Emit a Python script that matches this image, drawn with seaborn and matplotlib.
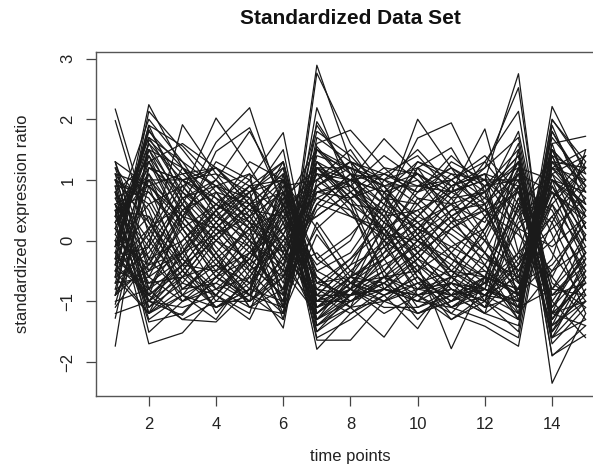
import numpy as np
import pandas as pd
import matplotlib
matplotlib.use("Agg")
import matplotlib.pyplot as plt
import seaborn as sns

# Standardized expression profiles over 15 time points, grouped by phase.
time_points = list(range(1, 16))

# Profiles peaking at t=2, t=7 and t=14
phase_a = [
    [-0.4, 2.24, 1.2, 0.5, -0.1, -1.0, 2.89, 1.3, 0.7, 0.2, -0.5, -0.8, -1.1, 2.21, 1.1],
    [-0.6, 2.13, 1.5, 0.8, 0.0, -1.2, 2.76, 1.6, 0.9, 0.1, -0.6, -0.9, -1.2, 1.99, 1.3],
    [-0.2, 1.83, 0.9, 0.2, -0.4, -0.9, 2.19, 0.8, 0.3, -0.2, -0.8, -1.0, -1.3, 1.8, 0.9],
    [-1.74, 1.66, 1.1, 0.6, 0.2, -1.1, 1.96, 1.1, 0.6, 0.3, -0.3, -0.6, -0.8, 1.6, 1.72],
    [-0.9, 1.5, 0.7, 0.1, -0.6, -1.44, 1.55, 0.9, 0.4, -0.3, -0.9, -1.2, -1.4, 1.5, 0.4],
    [0.1, 1.7, 1.3, 0.9, 0.3, -0.7, 1.4, 1.2, 1.0, 0.6, 0.0, -0.5, -0.9, 1.2, 1.5],
    [-0.5, 1.4, 0.6, -0.1, -0.7, -1.2, 1.2, 0.7, 0.1, -0.5, -1.1, -1.3, -1.6, 1.4, 0.2],
    [-1.28, 1.2, 1.0, 0.7, 0.4, -0.5, 1.8, 1.4, 0.8, 0.4, 0.1, -0.3, -0.6, 1.1, 0.6],
    [-0.3, 1.9, 1.56, 1.0, 0.5, -0.3, 1.1, 0.5, 0.0, -0.4, -0.7, -0.9, -1.0, 0.9, -0.1],
    [0.2, 1.3, 0.5, 0.0, -0.3, -0.8, 1.6, 1.82, 1.2, 0.7, 0.2, -0.2, -0.7, 1.7, 1.0],
    [-0.7, 1.1, 0.3, -0.4, -0.9, -1.3, 1.0, 0.6, 0.2, -0.6, -1.2, -1.41, -1.74, 1.3, 0.5],
    [-0.1, 1.6, 1.0, 0.3, -0.2, -0.6, 1.3, 1.0, 1.68, 1.1, 0.4, 0.0, -0.5, 0.8, 0.3],
    [-1.05, 0.9, 0.4, 0.2, -0.1, -1.0, 0.9, 0.4, 0.1, 0.0, -0.3, -0.7, -1.1, 2.0, 1.2],
    [0.4, 2.0, 1.3, 0.5, -0.5, -1.1, 1.7, 1.3, 0.7, 0.0, -0.6, -1.1, -0.9, 1.0, 0.8],
    [-0.8, 1.2, 0.8, 0.4, 0.1, -0.8, 1.3, 0.6, 0.5, 0.2, -0.1, -0.4, -1.3, 1.6, 0.0],
    [0.0, 1.5, 0.4, -0.2, -0.8, -1.0, 0.8, 1.0, 0.6, 0.0, -0.4, -0.8, -1.0, 1.2, 0.7],
    [-0.3, 1.8, 1.2, 0.4, 0.0, -0.4, 1.5, 0.9, 0.3, -0.1, -0.5, -0.6, -0.8, 0.7, 1.4],
    [-0.6, 1.0, 1.0, 0.6, 0.2, -1.3, 1.2, 0.8, 0.4, 0.5, -0.2, -1.0, -1.5, 1.9, 0.6],
    [0.3, 1.7, 0.8, 0.2, -0.4, -0.9, 0.6, 0.4, 0.2, -0.3, -0.6, -0.5, -0.9, 1.4, 1.1],
    [-0.4, 1.3, 1.6, 1.2, 0.6, -0.2, 1.9, 1.1, 0.9, 0.3, -0.2, -0.6, -1.2, 1.5, 0.9],
]

# Profiles in opposite phase: high at t=1, t=6 and t=13
phase_b = [
    [0.9, -1.0, -0.6, 0.1, 0.6, 1.1, -1.4, -0.9, -0.5, 0.2, 0.8, 1.0, 2.75, -1.5, -0.8],
    [0.6, -1.3, -0.9, -0.2, 0.4, 1.2, -1.3, -1.0, -0.6, 0.0, 0.7, 1.2, 2.52, -1.3, -0.6],
    [1.3, -0.8, -0.4, 0.3, 0.8, 1.3, -1.1, -0.7, -0.3, 0.4, 1.0, 1.3, 2.13, -1.2, -1.0],
    [2.17, 0.3, -0.5, -0.9, -0.3, 0.8, -1.79, -1.2, -0.8, -0.3, 0.3, 0.9, 1.5, -2.35, -1.2],
    [1.98, 0.1, -0.8, -0.4, 0.2, 1.0, -1.64, -1.64, -1.0, -0.5, 0.2, 0.6, 1.3, -1.89, -1.55],
    [0.5, -1.7, -1.52, -0.9, -0.2, 0.6, -1.0, -0.6, -0.3, 0.1, 0.5, 0.9, 1.2, -1.4, -0.3],
    [0.8, -1.51, -1.0, -0.5, 0.3, 1.3, -0.9, -0.4, -0.1, 0.3, 0.6, 0.8, 1.4, -1.1, -0.5],
    [0.3, -1.34, -1.2, -0.6, 0.0, 0.9, -1.5, -1.1, -1.59, -0.8, -0.2, 0.4, 1.1, -1.7, -1.1],
    [1.1, -0.9, -0.5, 0.2, 0.7, 1.5, -1.2, -0.8, -0.4, -0.1, 0.4, 0.7, 1.8, -0.9, -0.7],
    [0.7, -0.6, -1.0, -0.7, -0.1, 0.7, -1.6, -1.3, -0.9, -1.45, -0.6, 0.2, 0.9, -1.6, -1.3],
    [1.0, -1.1, -0.7, 0.0, 0.5, 1.0, -0.8, -0.9, -0.7, -0.3, 0.3, 0.5, 1.6, -1.3, -0.4],
    [0.4, -0.7, -0.3, 0.5, 1.0, 1.78, -1.0, -0.5, 0.0, 0.4, 0.9, 1.1, 0.9, -0.8, -0.9],
    [0.9, -1.2, -0.8, -0.3, 0.2, 0.5, -1.4, -1.0, -0.8, -0.4, -1.78, -0.6, 0.7, -1.0, -0.2],
    [0.2, -0.9, -0.4, 0.0, 0.6, 1.1, -1.1, -0.6, -0.2, 0.2, 0.6, 0.3, 1.3, -1.9, -1.4],
    [1.2, -0.5, -0.2, 0.4, 0.9, 1.30, -0.7, -0.3, 0.2, 0.5, 0.8, 1.0, 1.0, -1.2, 0.1],
    [0.6, -1.0, -1.23, -0.6, -0.3, 0.4, -1.3, -0.8, -0.5, 0.0, 0.4, 0.8, 1.4, -1.5, -0.8],
    [1.0, -0.4, -0.2, 0.1, 0.4, 0.8, -1.2, -0.7, -0.6, -0.2, 0.2, 0.5, 0.8, -1.3, -0.6],
    [0.0, -1.1, -0.5, 0.2, 0.8, 1.2, -0.9, -0.9, -0.3, 0.1, 0.9, 1.2, 1.7, -1.1, -0.2],
    [0.8, -0.8, -1.3, -1.34, -0.8, 0.3, -1.5, -0.9, -0.6, -0.5, -0.1, 0.2, 1.0, -1.6, -1.0],
    [1.3, -0.3, 0.0, 0.5, 0.9, 1.0, -0.6, -1.0, -0.7, -0.2, 0.5, 0.6, 1.1, -0.7, -1.1],
]

# Profiles peaking around t=4-5 and t=10-11
phase_c = [
    [-0.9, -0.4, 0.8, 2.02, 1.2, 0.3, -0.9, -0.4, 0.5, 2.0, 1.2, 0.4, -0.5, 0.0, 0.9],
    [-0.6, -0.2, 0.6, 1.62, 2.19, 0.5, -0.5, -0.2, 0.6, 1.69, 1.94, 0.8, -0.3, 0.2, 0.7],
    [-1.0, -0.8, 0.3, 1.47, 1.86, 0.6, -0.7, -0.6, 0.2, 1.2, 1.53, 0.6, -0.7, -0.4, 0.3],
    [-0.5, 0.1, 1.0, 1.2, 0.9, 0.1, -1.0, -0.8, 0.0, 0.9, 0.8, 1.84, -0.2, -0.6, 0.5],
    [-0.7, -0.6, 0.5, 1.0, 1.80, 0.8, -0.3, 0.1, 0.7, 1.1, 0.7, 0.0, -0.9, -0.3, 1.50],
    [-1.2, -1.0, -0.2, 0.8, 0.6, -0.1, -1.1, -0.9, -0.2, 0.7, 0.6, -0.2, -1.1, -0.8, 0.1],
    [-0.3, -0.1, 1.91, 1.1, 0.4, -0.3, -0.8, -0.3, 0.4, 1.3, 1.0, 0.5, -0.4, 0.4, 1.0],
    [-0.8, -0.5, 0.2, 0.6, 0.3, 0.0, -0.6, -1.1, 0.1, 0.8, 1.4, 0.9, -0.6, -0.9, -0.3],
    [-0.4, -0.9, 0.4, 1.3, 1.0, -0.2, -1.3, -0.6, 0.8, 1.0, 0.3, -0.2, -0.8, 0.6, 1.2],
    [-1.1, -0.3, 0.7, 0.9, 0.5, 0.4, -0.4, 0.0, 1.0, 1.5, 0.9, 0.1, -1.2, -0.5, -0.1],
    [-0.6, -1.2, -0.1, 0.5, 1.3, 1.0, 0.2, -0.7, -0.1, 0.6, 1.1, 1.0, 0.2, -0.1, 0.4],
    [-0.9, 0.2, 1.2, 0.7, 0.0, -0.5, -1.2, -0.8, 0.3, 1.2, 0.4, -0.4, -1.0, 0.3, 1.3],
]

# Profiles low around t=4-5 and t=10-11
phase_d = [
    [1.3, 0.9, -0.5, -1.1, -0.8, 0.1, 1.1, 1.0, -0.3, -1.1, -0.9, -0.2, 0.9, 0.5, -0.6],
    [1.0, 0.7, -0.3, -0.9, -1.30, -0.2, 0.9, 1.2, 0.0, -0.9, -1.2, -0.6, 0.7, 0.3, -0.9],
    [0.7, 1.0, -0.1, -1.2, -0.6, 0.3, 1.3, 0.7, -0.6, -1.3, -0.7, 0.0, 1.1, 0.8, -0.4],
    [1.2, 0.5, -0.8, -0.7, -1.0, -0.4, 0.6, 1.1, 0.4, -0.6, -1.3, -1.0, 0.4, 0.9, -0.2],
    [0.8, 1.3, 0.2, -0.6, -0.9, 0.0, 0.8, 0.9, 0.5, -0.4, -0.9, -0.8, 0.6, 1.1, 0.0],
    [0.5, 0.4, -0.9, -1.3, -0.5, 0.5, 1.0, 1.3, -0.1, -0.8, -0.6, 0.2, 1.3, 0.1, -1.2],
    [1.1, 0.2, -0.6, -0.4, -0.7, 0.4, 0.7, 0.5, -0.5, -1.2, -1.0, -0.4, 0.5, 1.4, 0.2],
    [0.9, 0.8, 0.1, -0.8, -1.1, -0.6, 0.5, 1.0, 0.8, -0.2, -0.8, -1.1, 0.3, 0.6, -0.7],
    [0.4, 1.1, -0.2, -1.0, -0.4, 0.7, 1.2, 0.6, -0.8, -1.0, -0.4, 0.4, 0.8, -0.2, -1.0],
    [1.0, 0.6, -0.4, -0.5, -0.2, 0.2, 0.4, 0.8, 0.2, -0.7, -0.5, 0.1, 1.2, 1.0, -0.3],
    [0.6, -0.1, -1.0, -0.8, -0.3, 0.6, 1.5, 1.1, 0.1, -0.5, -1.1, -0.7, 0.2, 0.8, 0.4],
    [1.1, 0.9, 0.3, -0.3, -1.1, -0.8, 0.2, 0.7, 0.9, 0.1, -0.5, -0.9, -0.2, 0.4, -0.5],
]

# Profiles holding high through t=7-12
late_high = [
    [0.5, 0.8, 0.2, -0.5, -1.0, -0.6, 0.6, 1.1, 1.0, 1.2, 0.9, 1.1, 0.4, -0.9, -0.4],
    [-0.2, 0.4, -0.3, -0.8, -0.6, 0.2, 0.9, 1.3, 1.1, 0.8, 1.2, 0.9, 1.0, -1.2, -0.7],
    [0.8, 0.0, -0.7, -0.9, -0.2, 0.5, 1.1, 0.9, 1.4, 1.0, 0.6, 1.3, 0.6, -0.6, -1.3],
    [0.3, 1.0, 0.4, -0.3, -0.9, -0.3, 0.7, 1.0, 0.8, 1.3, 1.1, 0.7, 0.2, -1.4, -0.9],
    [-0.1, 0.6, 0.9, 0.3, -0.4, 0.1, 1.2, 1.2, 0.9, 0.9, 1.0, 1.4, 0.8, -0.8, -0.2],
    [1.0, 0.3, -0.4, -1.1, -0.7, 0.0, 0.4, 0.8, 1.2, 1.1, 0.7, 0.8, 1.3, -1.0, -1.6],
    [0.6, -0.3, -0.9, -0.6, 0.1, 0.9, 1.0, 1.5, 0.7, 0.6, 1.3, 1.0, 0.5, -1.5, -0.5],
    [-0.4, 0.2, 0.6, 0.0, -0.5, -0.1, 0.8, 0.7, 1.1, 1.4, 0.8, 0.5, 0.1, -0.5, 0.3],
    [0.3, 1.2, 1.0, 1.1, 0.8, -0.9, 1.2, 1.0, 1.1, 0.9, 1.2, 0.8, -0.7, 1.8, 0.8],
    [-0.1, 1.5, 1.2, 0.9, 1.1, -1.1, 1.5, 1.2, 0.9, 1.1, 0.8, 1.1, -1.0, 1.3, 1.2],
    [0.6, 0.9, 1.1, 1.2, 0.7, -0.6, 0.9, 1.3, 1.0, 0.8, 1.0, 0.6, -0.9, 1.0, 0.5],
]

# Profiles holding low through t=7-12
late_low = [
    [-0.3, -0.8, 0.0, 0.6, 1.1, 0.6, -0.7, -0.9, -0.8, -1.0, -0.7, -0.9, -0.3, 1.0, 0.6],
    [0.2, -0.5, 0.4, 0.9, 0.7, -0.1, -0.9, -1.2, -0.9, -0.7, -1.1, -0.8, -1.0, 1.3, 0.8],
    [-0.7, -0.1, 0.7, 1.0, 0.3, -0.4, -1.1, -0.8, -1.2, -0.9, -0.6, -1.1, -0.5, 0.7, 1.2],
    [-0.2, -1.0, -0.4, 0.3, 0.9, 0.4, -0.6, -1.0, -0.7, -1.2, -1.0, -0.7, -0.2, 1.5, 0.9],
    [0.1, -0.6, -0.2, 0.5, 0.8, 1.0, -0.3, -0.7, -1.0, -0.8, -0.9, -1.2, -0.8, 0.9, 0.1],
    [-0.9, 0.0, 0.9, 1.2, 0.6, 0.1, -0.8, -1.1, -0.6, -0.9, -1.3, -0.9, -0.6, 1.1, 1.4],
    [-0.5, -1.2, -0.6, 0.1, 0.6, 0.8, -0.5, -0.8, -1.1, -1.1, -0.8, -1.0, -0.4, 0.6, -0.2],
    [0.0, -0.4, 0.5, 0.8, 0.2, -0.2, -1.0, -0.6, -0.9, -0.6, -1.0, -0.6, -1.3, 1.2, 0.5],
    [0.2, 1.6, 0.6, -0.3, -0.9, -1.1, 0.3, -0.5, -0.8, -0.9, -0.7, -0.8, -1.1, 1.0, 0.4],
    [0.4, 1.4, 0.2, -0.6, -1.0, -0.5, -0.2, -0.8, -1.0, -0.7, -0.9, -0.6, -0.9, 1.5, 0.2],
    [-0.1, 1.9, 0.7, -0.2, -1.1, -1.2, 0.1, -0.6, -0.7, -1.0, -1.1, -0.9, -0.4, 1.2, 1.0],
    [0.0, -1.0, -1.1, -0.9, -1.2, 0.6, -1.3, -0.9, -0.8, -0.9, -0.8, -1.0, 0.9, -1.2, -0.7],
    [0.5, -1.2, -0.9, -1.1, -0.8, 1.0, -1.2, -0.7, -0.9, -0.6, -1.0, -0.8, 1.2, -1.4, -1.0],
    [-0.2, -0.9, -1.3, -1.0, -1.0, 0.8, -1.0, -1.0, -0.6, -0.8, -0.7, -1.2, 0.6, -1.6, -0.6],
    [-0.5, -0.7, -0.6, -1.1, -0.9, 1.1, -1.4, -1.1, -1.0, -1.2, -0.9, -0.7, 1.5, -1.2, -1.4],
]

x_ticks = [2, 4, 6, 8, 10, 12, 14]
y_ticks = [-2, -1, 0, 1, 2, 3]

# Long-form table: one row per gene and time point
rows = []
gene_id = 0
for group in (phase_a, phase_b, phase_c, phase_d, late_high, late_low):
    for profile in group:
        for t, v in zip(time_points, profile):
            rows.append({"gene": gene_id, "time": t, "value": v})
        gene_id += 1
df = pd.DataFrame(rows)

sns.set_theme(style="white")
plt.rcParams["font.family"] = ["Liberation Sans", "DejaVu Sans"]

W, H = 593, 465
fig = plt.figure(figsize=(W / 100, H / 100), dpi=100)
left, right, top, bottom = 96.4, 604.5, 52.5, 396.0
ax = fig.add_axes([left / W, 1 - bottom / H, (right - left) / W, (bottom - top) / H])

sns.lineplot(data=df, x="time", y="value", units="gene", estimator=None,
             color="#1a1a1a", linewidth=0.9, ax=ax, legend=False)

# R-style 4% axis padding
xmin, xmax = min(time_points), max(time_points)
ymin, ymax = df["value"].min(), df["value"].max()
ax.set_xlim(xmin - 0.04 * (xmax - xmin), xmax + 0.04 * (xmax - xmin))
ax.set_ylim(ymin - 0.04 * (ymax - ymin), ymax + 0.04 * (ymax - ymin))

ax.set_xticks(x_ticks)
ax.set_yticks(y_ticks)
ax.set_xticklabels([str(v) for v in x_ticks])
ax.set_yticklabels([str(v) if v >= 0 else "\u2212" + str(-v) for v in y_ticks],
                   rotation=90, va="center")
ax.tick_params(axis="both", direction="out", length=7, width=0.9,
               color="#444444", labelsize=12, labelcolor="#222222",
               bottom=True, left=True, pad=8)
for s in ax.spines.values():
    s.set_color("#555555")
    s.set_linewidth(1.0)

ax.set_xlabel("")
ax.set_ylabel("")
fig.text(350 / W, 1 - 456 / H, "time points", ha="center", va="center",
         fontsize=12, color="#222222")
fig.text(23 / W, 1 - 224 / H, "standardized expression ratio", ha="center",
         va="center", rotation=90, fontsize=12, color="#222222")
fig.text(350 / W, 1 - 18 / H, "Standardized Data Set", ha="center",
         va="center", fontsize=15, fontweight="bold", color="#111111")

fig.savefig("out.png", dpi=100)
